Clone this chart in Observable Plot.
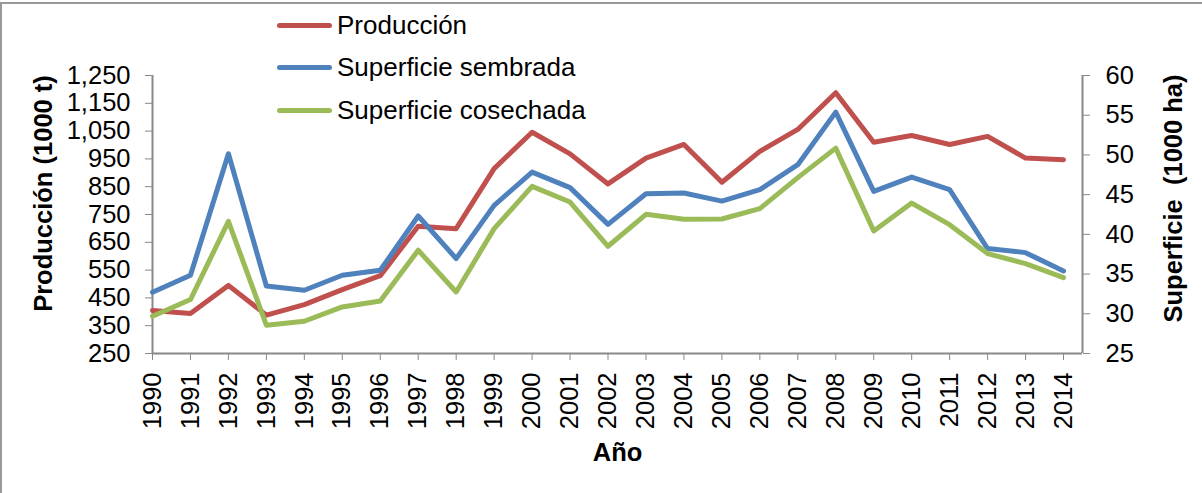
<!DOCTYPE html>
<html>
<head>
<meta charset="utf-8">
<script src="https://cdn.jsdelivr.net/npm/d3@7"></script>
<script src="https://cdn.jsdelivr.net/npm/@observablehq/plot@0.6"></script>
<style>
  html, body { margin: 0; padding: 0; background: #fff; }
  #wrap { position: relative; width: 1202px; height: 493px; overflow: hidden; font-family: "Liberation Sans", Arial, sans-serif; }
  #border { position: absolute; left: 0; top: 2px; width: 1202px; height: 491px; border-left: 2px solid #999; border-top: 2px solid #999; box-sizing: border-box; pointer-events: none; }
  #legend { position: absolute; left: 277px; top: 4px; }
  .row { display: flex; align-items: center; height: 42.5px; font-size: 26px; color: #000; }
  .sw { width: 55px; height: 5px; border-radius: 3px; margin-right: 5px; }
  #chart svg text { font-size: 25.5px !important; }
</style>
</head>
<body>
<div id="wrap"><div id="chart"></div><div id="legend"></div><div id="border"></div></div>
<script>
const years = d3.range(1990, 2015);
const produccion = [405, 394, 495, 388, 426, 480, 530, 708, 699, 915, 1046, 968, 860, 953, 1002, 866, 977, 1056, 1188, 1010, 1034, 1002, 1031, 953, 947];
const sembrada = [32.7, 34.85, 50.15, 33.5, 32.96, 34.85, 35.48, 42.31, 36.95, 43.65, 47.84, 45.88, 41.26, 45.12, 45.2, 44.19, 45.63, 48.77, 55.39, 45.41, 47.21, 45.63, 38.21, 37.7, 35.39];
const cosechada = [29.69, 31.79, 41.64, 28.56, 29.06, 30.86, 31.62, 38.0, 32.75, 40.72, 46.04, 44.07, 38.5, 42.52, 41.89, 41.93, 43.24, 47.14, 50.86, 40.42, 43.94, 41.22, 37.58, 36.32, 34.56];
const leftTicks = [250, 350, 450, 550, 650, 750, 850, 950, 1050, 1150, 1250];
const rightTicks = [25, 30, 35, 40, 45, 50, 55, 60];
const seriesNames = ["Producción", "Superficie sembrada", "Superficie cosechada"];
const seriesColors = ["#C0504D", "#4F81BD", "#9BBB59"];

// map right-axis (1000 ha) onto left-axis scale (1000 t)
const toLeft = s => 250 + (s - 25) * (1000 / 35);
const fromLeft = v => 25 + (v - 250) * 35 / 1000;

const data = [];
years.forEach((y, i) => {
  data.push({year: y, series: seriesNames[0], v: produccion[i]});
  data.push({year: y, series: seriesNames[1], v: toLeft(sembrada[i])});
  data.push({year: y, series: seriesNames[2], v: toLeft(cosechada[i])});
});

const font = "Liberation Sans, Arial, sans-serif";
const chart = Plot.plot({
  width: 1202,
  height: 493,
  marginLeft: 152,
  marginRight: 120,
  marginTop: 75,
  marginBottom: 140,
  style: {fontFamily: font, fontSize: "25.5px", color: "#000", background: "transparent"},
  x: {domain: [1990, 2014.5]},
  y: {domain: [250, 1250]},
  color: {domain: seriesNames, range: seriesColors},
  marks: [
    Plot.axisY({anchor: "left", ticks: leftTicks, tickFormat: d3.format(","), tickSize: 7, tickPadding: 15, stroke: "#888", label: null}),
    Plot.ruleX([0], {x: () => 1990, stroke: "#888", strokeWidth: 2}),
    Plot.axisY({anchor: "right", ticks: rightTicks.map(toLeft), tickFormat: d => String(Math.round(fromLeft(d))), tickSize: 7, tickPadding: 16, stroke: "#888", label: null}),
    Plot.ruleX([0], {x: () => 2014.5, stroke: "#888", strokeWidth: 2}),
    Plot.axisX({ticks: years, tickFormat: d => String(d), tickRotate: -90, tickSize: 7, tickPadding: 12, stroke: "#888", label: null}),
    Plot.ruleY([250], {stroke: "#888", strokeWidth: 2}),
    Plot.line(data, {x: "year", y: "v", z: "series", stroke: "series", strokeWidth: 5, strokeLinejoin: "round", strokeLinecap: "round"}),
    Plot.text(["Producción (1000 t)"], {frameAnchor: "left", textAnchor: "middle", dx: -109, dy: -21, rotate: -90, fontWeight: "bold"}),
    Plot.text(["Superficie  (1000 ha)"], {frameAnchor: "right", textAnchor: "middle", dx: 91, dy: -16, rotate: -90, fontWeight: "bold"}),
    Plot.text(["Año"], {frameAnchor: "bottom", dx: 0, dy: 107, fontWeight: "bold"})
  ]
});
chart.querySelectorAll("text").forEach(t => t.style.whiteSpace = "pre");
document.getElementById("chart").appendChild(chart);

const legend = document.getElementById("legend");
seriesNames.forEach((n, i) => {
  const row = document.createElement("div");
  row.className = "row";
  const sw = document.createElement("div");
  sw.className = "sw";
  sw.style.background = seriesColors[i];
  const tx = document.createElement("span");
  tx.textContent = n;
  row.appendChild(sw);
  row.appendChild(tx);
  legend.appendChild(row);
});
</script>
</body>
</html>
